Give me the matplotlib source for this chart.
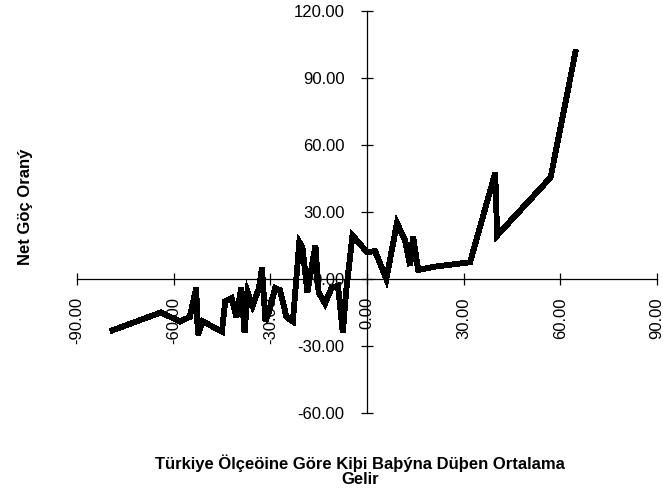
import matplotlib
matplotlib.use("Agg")
import matplotlib.pyplot as plt

income = [-79, -64, -58, -55, -53, -52.5, -51, -47, -45, -44, -42, -40.5, -39, -38,
          -37, -35.5, -33.5, -32.6, -31.5, -30.5, -28.5, -27, -25, -23, -21, -20,
          -18.5, -16, -15, -13, -11, -9, -7.5, -6.5, -4.5, 0, 2.5, 6, 9.3, 11.8,
          13.4, 14.3, 15.9, 21, 32, 39.8, 40.4, 57, 64.7]
migration = [-23, -15, -19, -17, -4, -25, -19, -22, -23.5, -10, -8.5, -17, -4, -24,
             -6, -12, -4, 5, -19, -15, -4, -5, -17, -19, 16.5, 14,
             -6, 15, -6, -11, -4, -3, -24, -6, 19.5, 12, 12.5, 0, 25, 17.5,
             6, 19, 4, 5.5, 7.5, 47.5, 19.5, 45.5, 101.6]

xticks = [-90, -60, -30, 0, 30, 60, 90]
yticks = [-60, -30, 0, 30, 60, 90, 120]
xlabel = "Türkiye Ölçeöine Göre Kiþi Baþýna Düþen Ortalama\nGelir"
ylabel = "Net Göç Oraný"

plt.rcParams['font.family'] = ['Liberation Sans', 'DejaVu Sans']

fig = plt.figure(figsize=(6.63, 4.95), dpi=100)
ax = fig.add_axes([0.1161, 0.1657, 0.8748, 0.8121])

ax.plot(income, migration, color='black', lw=3.5, solid_joinstyle='miter',
        antialiased=False)

ax.set_xlim(-90, 90)
ax.set_ylim(-60, 120)
ax.spines['left'].set_position(('data', 0))
ax.spines['bottom'].set_position(('data', 0))
ax.spines['top'].set_visible(False)
ax.spines['right'].set_visible(False)
for s in ('left', 'bottom'):
    ax.spines[s].set_linewidth(0.9)

ax.set_xticks(xticks)
ax.set_yticks(yticks)
ax.set_xticklabels([f"{v:.2f}" for v in xticks], rotation=90)
ax.set_yticklabels([f"{v:.2f}" for v in yticks])
ax.tick_params(axis='both', direction='inout', length=8, width=0.9,
               labelsize=12)
ax.tick_params(axis='x', pad=9)
ax.tick_params(axis='y', pad=12)

fig.text(0.038, 0.582, ylabel, rotation=90, ha='center', va='center',
         fontsize=12, fontweight='bold')
fig.text(0.543, 0.05, xlabel, ha='center', va='center', fontsize=12,
         fontweight='bold', linespacing=1.0)

fig.savefig("out.png", dpi=100)
